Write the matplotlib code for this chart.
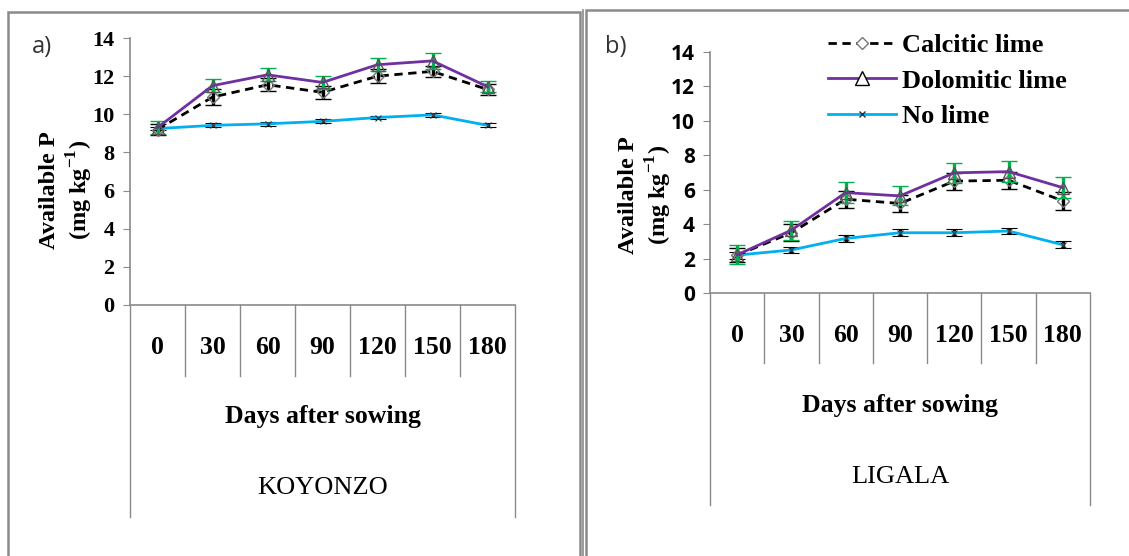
import matplotlib
matplotlib.use("Agg")
import matplotlib.pyplot as plt
from matplotlib.lines import Line2D
from matplotlib.patches import Rectangle

plt.rcParams['mathtext.fontset'] = 'custom'
plt.rcParams['mathtext.rm'] = 'Liberation Serif:bold'
plt.rcParams['mathtext.bf'] = 'Liberation Serif:bold'

days = ['0', '30', '60', '90', '120', '150', '180']

# KOYONZO
koy_calcitic = [9.2, 10.9, 11.55, 11.15, 12.0, 12.25, 11.3]
koy_calcitic_err = [0.3, 0.4, 0.35, 0.35, 0.35, 0.3, 0.3]
koy_dolomitic = [9.3, 11.5, 12.07, 11.67, 12.6, 12.8, 11.45]
koy_dolomitic_err = [0.35, 0.35, 0.35, 0.35, 0.35, 0.4, 0.3]
koy_nolime = [9.25, 9.42, 9.5, 9.63, 9.83, 9.97, 9.42]
koy_nolime_err = [0.1, 0.1, 0.1, 0.1, 0.1, 0.1, 0.1]

# LIGALA
lig_calcitic = [2.2, 3.5, 5.45, 5.2, 6.5, 6.55, 5.35]
lig_calcitic_err = [0.4, 0.5, 0.5, 0.5, 0.5, 0.5, 0.5]
lig_dolomitic = [2.22, 3.65, 5.83, 5.64, 6.98, 7.05, 6.12]
lig_dolomitic_err = [0.55, 0.55, 0.6, 0.55, 0.6, 0.6, 0.6]
lig_nolime = [2.2, 2.5, 3.17, 3.5, 3.5, 3.6, 2.8]
lig_nolime_err = [0.2, 0.2, 0.2, 0.2, 0.2, 0.2, 0.2]

PURPLE = '#7030A0'
BLUE = '#00B0F0'
GREEN = '#00B050'
GRAY = '#8a8a8a'

fig = plt.figure(figsize=(11.29, 5.56), dpi=100)
W, H = 1129, 556


def px_axes(x0, y0, x1, y1):
    return fig.add_axes([x0 / W, 1 - y1 / H, (x1 - x0) / W, (y1 - y0) / H])


# panel frames
fig.patches.append(Rectangle((8 / W, -0.05), 572 / W, 1 - 12 / H + 0.05, transform=fig.transFigure,
                             fill=False, edgecolor=GRAY, lw=1.8))
fig.patches.append(Rectangle((586 / W, -0.05), 560 / W, 1 - 10 / H + 0.05, transform=fig.transFigure,
                             fill=False, edgecolor=GRAY, lw=1.8))
fig.add_artist(Line2D([583 / W, 583 / W], [0, 1 - 10 / H], transform=fig.transFigure, color=GRAY, lw=1.2))


def draw_panel(ax, calc, calc_e, dolo, dolo_e, nol, nol_e, divider_depth, outer_depth,
               site, days_y, site_y, ytick_font, ytick_size):
    x = list(range(len(days)))
    ax.errorbar(x, nol, yerr=nol_e, color=BLUE, lw=2, marker='x', ms=4, mec='#333333', mew=0.8,
                ecolor='black', elinewidth=2.4, capsize=6, capthick=4.5, zorder=3)
    ax.errorbar(x, calc, yerr=calc_e, color='black', lw=2, ls=(0, (3, 2)), marker='D', ms=6,
                mfc='none', mec='#777777', mew=1, ecolor='black', elinewidth=2.4, capsize=6,
                capthick=4.5, zorder=4)
    ax.errorbar(x, dolo, yerr=dolo_e, color=PURPLE, lw=2, marker='^', ms=8, mfc='none',
                mec='#555555', mew=1, ecolor=GREEN, elinewidth=2.4, capsize=6, capthick=4.5, zorder=5)
    ax.set_xlim(-0.5, 6.5)
    ax.set_ylim(0, 14)
    ax.set_yticks(range(0, 15, 2))
    ax.set_xticks(x)
    ax.set_xticklabels(days, fontfamily='Liberation Serif', fontweight='bold', fontsize=18.5)
    ax.tick_params(axis='x', length=0, pad=22)
    ax.tick_params(axis='y', direction='out', length=5, color=GRAY, pad=6)
    for lab in ax.get_yticklabels():
        lab.set_fontfamily(ytick_font)
        lab.set_fontweight('bold')
        lab.set_fontsize(ytick_size)
    for s in ['top', 'right']:
        ax.spines[s].set_visible(False)
    for s in ['left', 'bottom']:
        ax.spines[s].set_color(GRAY)
        ax.spines[s].set_linewidth(1.2)
    # category table below the axis
    for i in range(1, 7):
        xi = i / 7
        ax.plot([xi, xi], [0, -divider_depth], transform=ax.transAxes, color=GRAY, lw=1,
                clip_on=False)
    for xi in [0, 1]:
        ax.plot([xi, xi], [0, -outer_depth], transform=ax.transAxes, color=GRAY, lw=1,
                clip_on=False)
    ax.text(0.5, days_y, 'Days after sowing', transform=ax.transAxes, ha='center', va='center',
            fontfamily='Liberation Serif', fontweight='bold', fontsize=18.5)
    ax.text(0.5, site_y, site, transform=ax.transAxes, ha='center', va='center',
            fontfamily='Liberation Serif', fontsize=19)


ax1 = px_axes(130, 38, 515, 305)
draw_panel(ax1, koy_calcitic, koy_calcitic_err, koy_dolomitic, koy_dolomitic_err,
           koy_nolime, koy_nolime_err, 71 / 267, 212 / 267, 'KOYONZO',
           -(417 - 305) / 267, -(488 - 305) / 267, 'Liberation Serif', 16)

ax2 = px_axes(710, 52, 1090, 293)
draw_panel(ax2, lig_calcitic, lig_calcitic_err, lig_dolomitic, lig_dolomitic_err,
           lig_nolime, lig_nolime_err, 70 / 241, 212 / 241, 'LIGALA',
           -(405 - 293) / 241, -(477 - 293) / 241, 'Open Sans', 15)

# y labels
for cx, cy in [(67, 190), (646, 195)]:
    fig.text(cx / W, 1 - cy / H, 'Available P\n(mg kg$^{-1}$)', rotation=90, ha='center',
             va='center', fontfamily='Liberation Serif', fontweight='bold', fontsize=17.5,
             linespacing=1.2, multialignment='center')

fig.text(42 / W, 1 - 47 / H, 'a)', ha='center', va='center', fontfamily='Open Sans',
         fontsize=17, color='#333333')
fig.text(616 / W, 1 - 47 / H, 'b)', ha='center', va='center', fontfamily='Open Sans',
         fontsize=17, color='#333333')

handles = [
    Line2D([], [], color='black', lw=2, ls=(0, (3, 2)), marker='D', ms=6, mfc='white', mec='#777777'),
    Line2D([], [], color=PURPLE, lw=2, marker='^', ms=10, mfc='white', mec='black'),
    Line2D([], [], color=BLUE, lw=2, marker='x', ms=4, mec='#333333'),
]
labels = ['Calcitic lime', 'Dolomitic lime', 'No lime']
fig.legend(handles, labels, loc='upper left', bbox_to_anchor=(804 / W, 1 - 10 / H),
           frameon=False, handlelength=2.6, handletextpad=0.2, labelspacing=0.45,
           prop={'family': 'Liberation Serif', 'weight': 'bold', 'size': 19})

fig.savefig('out.png', dpi=100)
